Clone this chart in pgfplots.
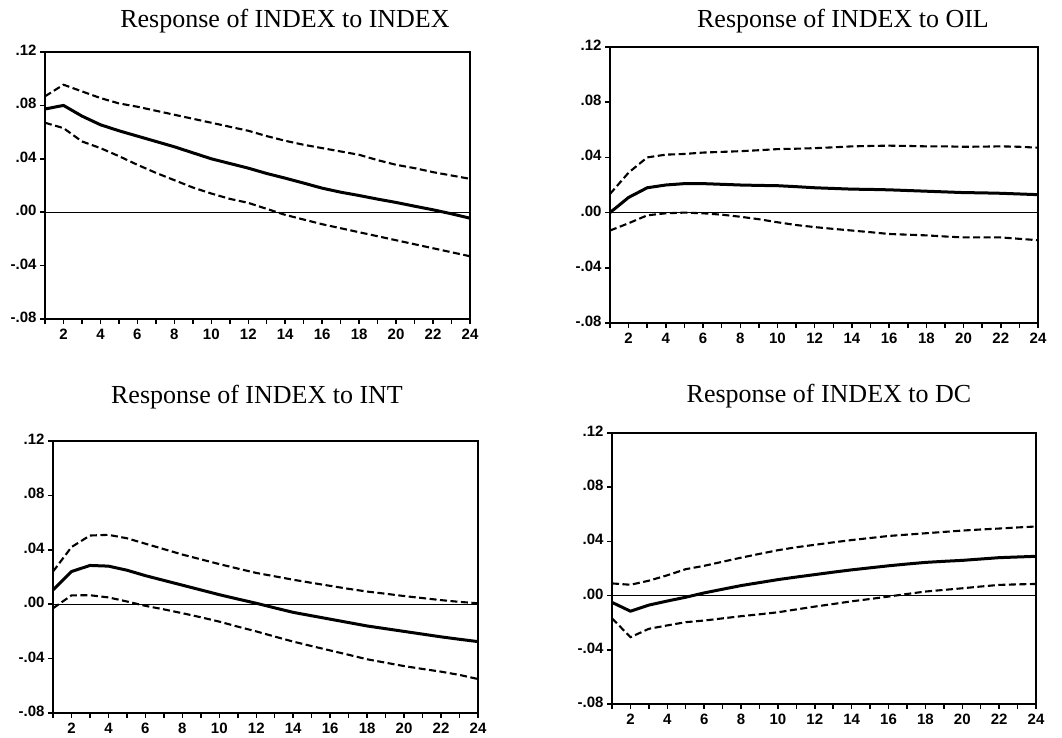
\documentclass[border=0pt]{standalone}
\usepackage{fontspec}
\setmainfont{Liberation Serif}
\newfontfamily\tickfont{Liberation Sans}
\usepackage{pgfplots}
\pgfplotsset{compat=1.18}

\pgfplotsset{
  irf/.style={
    scale only axis,
    anchor=south west,
    clip=false,
    xmin=1, xmax=24,
    ymin=-0.08, ymax=0.12,
    xtick={2,4,...,24},
    xticklabels={2,4,6,8,10,12,14,16,18,20,22,24},
    minor xtick={1,3,...,23},
    ytick={-0.08,-0.04,0,0.04,0.08,0.12},
    yticklabels={-.08,-.04,.00,.04,.08,.12},
    tick align=outside,
    major tick length=5pt,
    minor tick length=5pt,
    every major tick/.append style={line width=1.5pt, black},
    every minor tick/.append style={line width=1.5pt, black},
    xtick pos=bottom,
    ytick pos=left,
    typeset ticklabels with strut,
    every tick label/.append style={font=\tickfont\bfseries\fontsize{15}{17}\selectfont},
  },
  irfline/.style={black, line width=3pt, line join=round},
  band/.style={black, line width=2.1pt, dash pattern=on 7pt off 3.5pt},
  zero/.style={black, line width=1.3pt},
}
\tikzset{frame/.style={black, line width=2.6pt, line join=miter}}
\newcommand{\ttl}{\fontsize{26}{30}\selectfont}

\begin{document}
\begin{tikzpicture}
\path[use as bounding box] (0,0) rectangle (1062pt,-738pt);

% Response of INDEX to INDEX
\begin{axis}[irf, at={(45pt,-319pt)}, width=425pt, height=267pt]
\addplot[zero] coordinates {(1,0) (24,0)};
\addplot[band] coordinates {
(1,0.0868) (2,0.0955) (3,0.0905) (4,0.0855) (5,0.0815) (6,0.0790)
(7,0.0760) (8,0.0730) (9,0.0700) (10,0.0670) (11,0.0640) (12,0.0610)
(13,0.0570) (14,0.0535) (15,0.0505) (16,0.0480) (17,0.0455) (18,0.0430)
(19,0.0390) (20,0.0355) (21,0.0330) (22,0.0300) (23,0.0275) (24,0.0250)};
\addplot[band] coordinates {
(1,0.0670) (2,0.0630) (3,0.0530) (4,0.0480) (5,0.0420) (6,0.0355)
(7,0.0295) (8,0.0240) (9,0.0185) (10,0.0140) (11,0.0100) (12,0.0070)
(13,0.0025) (14,-0.0020) (15,-0.0055) (16,-0.0090) (17,-0.0120) (18,-0.0150)
(19,-0.0180) (20,-0.0210) (21,-0.0240) (22,-0.0270) (23,-0.0300) (24,-0.0330)};
\addplot[irfline] coordinates {
(1,0.0773) (2,0.0800) (3,0.0720) (4,0.0655) (5,0.0610) (6,0.0570)
(7,0.0530) (8,0.0490) (9,0.0445) (10,0.0400) (11,0.0365) (12,0.0330)
(13,0.0290) (14,0.0255) (15,0.0218) (16,0.0180) (17,0.0150) (18,0.0125)
(19,0.0098) (20,0.0073) (21,0.0045) (22,0.0018) (23,-0.0012) (24,-0.0045)};
\draw[frame] (rel axis cs:0,0) rectangle (rel axis cs:1,1);
\end{axis}

% Response of INDEX to OIL
\begin{axis}[irf, at={(610pt,-323pt)}, width=428pt, height=276pt]
\addplot[zero] coordinates {(1,0) (24,0)};
\addplot[band] coordinates {
(1,0.0135) (2,0.0290) (3,0.0400) (4,0.0420) (5,0.0425) (6,0.0435)
(7,0.0440) (8,0.0445) (9,0.0452) (10,0.0460) (11,0.0463) (12,0.0467)
(13,0.0473) (14,0.0480) (15,0.0483) (16,0.0485) (17,0.0483) (18,0.0480)
(19,0.0480) (20,0.0477) (21,0.0478) (22,0.0480) (23,0.0477) (24,0.0470)};
\addplot[band] coordinates {
(1,-0.0130) (2,-0.0077) (3,-0.0020) (4,-0.0005) (5,0.0000) (6,-0.0005)
(7,-0.0015) (8,-0.0030) (9,-0.0048) (10,-0.0070) (11,-0.0090) (12,-0.0105)
(13,-0.0118) (14,-0.0130) (15,-0.0142) (16,-0.0155) (17,-0.0160) (18,-0.0165)
(19,-0.0173) (20,-0.0180) (21,-0.0180) (22,-0.0180) (23,-0.0190) (24,-0.0200)};
\addplot[irfline] coordinates {
(1,0.0000) (2,0.0110) (3,0.0180) (4,0.0200) (5,0.0210) (6,0.0210)
(7,0.0205) (8,0.0200) (9,0.0197) (10,0.0195) (11,0.0188) (12,0.0180)
(13,0.0175) (14,0.0170) (15,0.0168) (16,0.0165) (17,0.0160) (18,0.0155)
(19,0.0150) (20,0.0145) (21,0.0143) (22,0.0140) (23,0.0135) (24,0.0130)};
\draw[frame] (rel axis cs:0,0) rectangle (rel axis cs:1,1);
\end{axis}

% Response of INDEX to INT
\begin{axis}[irf, at={(53pt,-713pt)}, width=425pt, height=272pt]
\addplot[zero] coordinates {(1,0) (24,0)};
\addplot[band] coordinates {
(1,0.0240) (2,0.0420) (3,0.0505) (4,0.0510) (5,0.0485) (6,0.0445)
(7,0.0405) (8,0.0365) (9,0.0330) (10,0.0295) (11,0.0262) (12,0.0230)
(13,0.0205) (14,0.0180) (15,0.0157) (16,0.0135) (17,0.0113) (18,0.0093)
(19,0.0077) (20,0.0060) (21,0.0045) (22,0.0030) (23,0.0017) (24,0.0007)};
\addplot[band] coordinates {
(1,-0.0030) (2,0.0065) (3,0.0066) (4,0.0050) (5,0.0020) (6,-0.0012)
(7,-0.0038) (8,-0.0066) (9,-0.0096) (10,-0.0128) (11,-0.0165) (12,-0.0200)
(13,-0.0238) (14,-0.0275) (15,-0.0308) (16,-0.0340) (17,-0.0372) (18,-0.0405)
(19,-0.0430) (20,-0.0455) (21,-0.0476) (22,-0.0496) (23,-0.0520) (24,-0.0550)};
\addplot[irfline] coordinates {
(1,0.0105) (2,0.0240) (3,0.0285) (4,0.0280) (5,0.0250) (6,0.0210)
(7,0.0175) (8,0.0140) (9,0.0105) (10,0.0070) (11,0.0038) (12,0.0007)
(13,-0.0027) (14,-0.0060) (15,-0.0085) (16,-0.0110) (17,-0.0135) (18,-0.0160)
(19,-0.0180) (20,-0.0200) (21,-0.0220) (22,-0.0240) (23,-0.0258) (24,-0.0275)};
\draw[frame] (rel axis cs:0,0) rectangle (rel axis cs:1,1);
\end{axis}

% Response of INDEX to DC
\begin{axis}[irf, at={(612pt,-704pt)}, width=424pt, height=271pt]
\addplot[zero] coordinates {(1,0) (24,0)};
\addplot[band] coordinates {
(1,0.0090) (2,0.0080) (3,0.0110) (4,0.0150) (5,0.0195) (6,0.0220)
(7,0.0250) (8,0.0280) (9,0.0308) (10,0.0335) (11,0.0357) (12,0.0375)
(13,0.0393) (14,0.0410) (15,0.0425) (16,0.0440) (17,0.0450) (18,0.0460)
(19,0.0470) (20,0.0480) (21,0.0488) (22,0.0495) (23,0.0503) (24,0.0510)};
\addplot[band] coordinates {
(1,-0.0167) (2,-0.0307) (3,-0.0245) (4,-0.0220) (5,-0.0196) (6,-0.0184)
(7,-0.0168) (8,-0.0152) (9,-0.0138) (10,-0.0123) (11,-0.0102) (12,-0.0081)
(13,-0.0062) (14,-0.0042) (15,-0.0025) (16,-0.0007) (17,0.0012) (18,0.0030)
(19,0.0042) (20,0.0054) (21,0.0067) (22,0.0079) (23,0.0083) (24,0.0086)};
\addplot[irfline] coordinates {
(1,-0.0050) (2,-0.0115) (3,-0.0070) (4,-0.0040) (5,-0.0012) (6,0.0020)
(7,0.0047) (8,0.0074) (9,0.0096) (10,0.0118) (11,0.0137) (12,0.0155)
(13,0.0173) (14,0.0190) (15,0.0205) (16,0.0220) (17,0.0233) (18,0.0245)
(19,0.0253) (20,0.0260) (21,0.0270) (22,0.0280) (23,0.0285) (24,0.0290)};
\draw[frame] (rel axis cs:0,0) rectangle (rel axis cs:1,1);
\end{axis}

\node[anchor=base] at (285pt,-28pt) {\ttl Response of INDEX to INDEX};
\node[anchor=base] at (843pt,-28pt) {\ttl Response of INDEX to OIL};
\node[anchor=base] at (257pt,-403pt) {\ttl Response of INDEX to INT};
\node[anchor=base] at (829pt,-402pt) {\ttl Response of INDEX to DC};
\end{tikzpicture}
\end{document}
